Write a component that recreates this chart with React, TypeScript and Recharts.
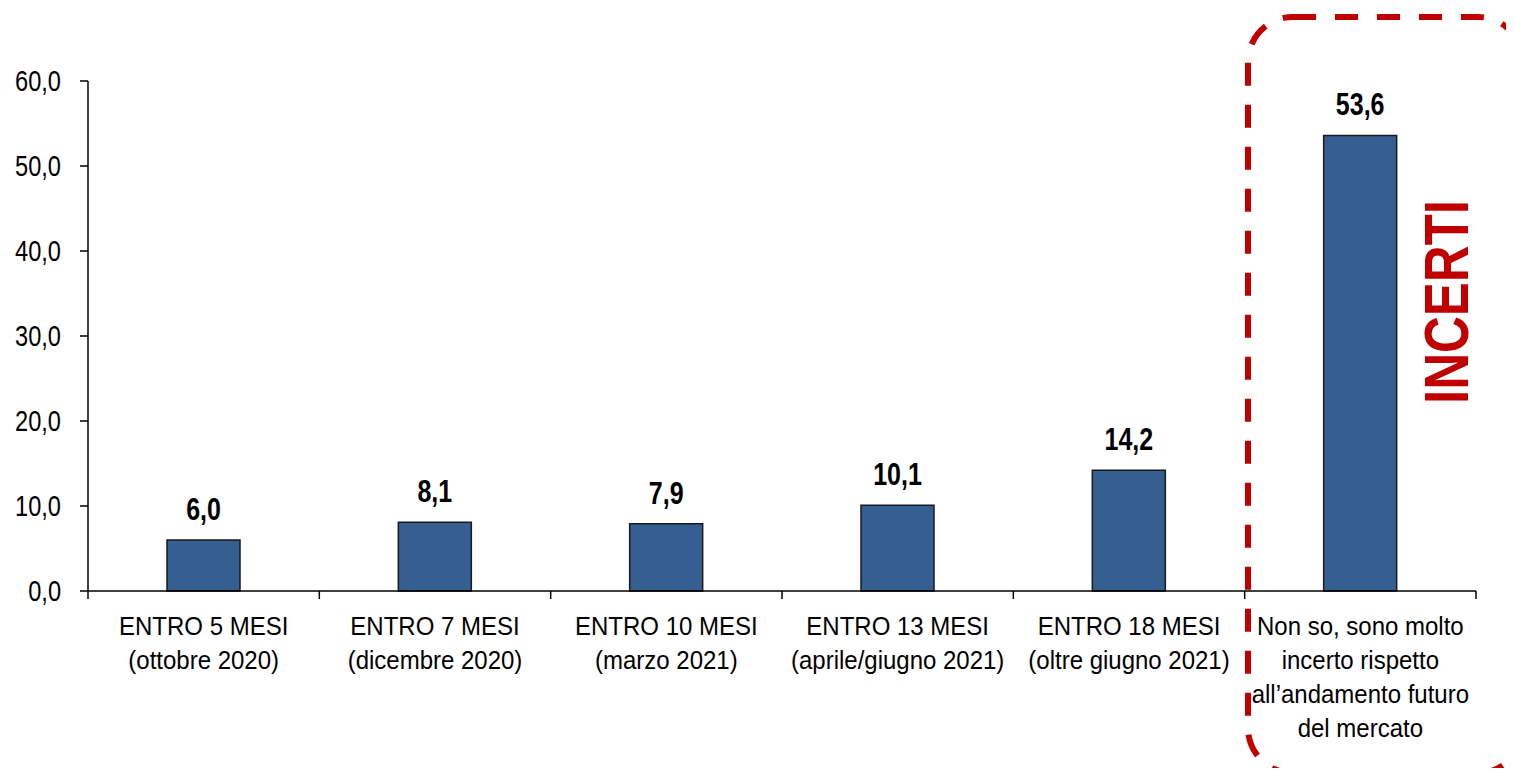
import React from 'react'
import { Bar, BarChart, LabelList, XAxis, YAxis } from 'recharts'

const categories = [
  ['ENTRO 5 MESI', '(ottobre 2020)'],
  ['ENTRO 7 MESI', '(dicembre 2020)'],
  ['ENTRO 10 MESI', '(marzo 2021)'],
  ['ENTRO 13 MESI', '(aprile/giugno 2021)'],
  ['ENTRO 18 MESI', '(oltre giugno 2021)'],
  ['Non so, sono molto', 'incerto rispetto', 'all\u2019andamento futuro', 'del mercato'],
]
const values = [6.0, 8.1, 7.9, 10.1, 14.2, 53.6]
const yTicks = [0, 10, 20, 30, 40, 50, 60]
const highlightLabel = 'INCERTI'

const data = categories.map((lines, i) => ({ name: lines.join(' '), lines, value: values[i] }))

const W = 1514
const H = 776
const PLOT_LEFT = 88
const PLOT_RIGHT = 1476
const BAND = (PLOT_RIGHT - PLOT_LEFT) / categories.length
const FONT = "'Liberation Sans', Arial, sans-serif"
const RED = '#C00000'

const fmt = (v: number) => v.toFixed(1).replace('.', ',')

// the original text is a bit taller than Arial, so stretch it vertically around its baseline
const TallText = ({ x, y, sy, children, ...rest }: any) => (
  <text transform={`translate(${x},${y}) scale(1,${sy})`} x={0} y={0} {...rest}>
    {children}
  </text>
)

const CategoryTick = (props: any) => {
  const { x, y, payload, index } = props
  const lines = categories[index] || [String(payload.value)]
  return (
    <g>
      <line x1={x - BAND / 2} x2={x - BAND / 2} y1={y} y2={y + 8} stroke="#000" strokeWidth={1.5} />
      {index === categories.length - 1 && (
        <line x1={x + BAND / 2} x2={x + BAND / 2} y1={y} y2={y + 8} stroke="#000" strokeWidth={1.5} />
      )}
      {lines.map((l: string, i: number) => (
        <TallText
          key={i}
          x={x}
          y={y + 44 + i * 34}
          sy={1.06}
          textAnchor="middle"
          fontSize={24}
          fontFamily={FONT}
          fill="#000"
        >
          {l}
        </TallText>
      ))}
    </g>
  )
}

const ValueTick = (props: any) => {
  const { x, y, payload } = props
  return (
    <TallText x={x} y={y + 10} sy={1.22} textAnchor="end" fontSize={23.6} fontFamily={FONT} fill="#000">
      {fmt(Number(payload.value))}
    </TallText>
  )
}

const BarValue = (props: any) => {
  const { x, y, width, value } = props
  return (
    <TallText
      x={Number(x) + Number(width) / 2}
      y={Number(y) - 20}
      sy={1.22}
      textAnchor="middle"
      fontSize={25}
      fontWeight="bold"
      fontFamily={FONT}
      fill="#000"
    >
      {fmt(Number(value))}
    </TallText>
  )
}

export default function App() {
  return (
    <div style={{ position: 'relative', width: W, height: H, margin: -8, background: '#fff' }}>
      <BarChart width={W} height={H} data={data} margin={{ top: 81, right: W - PLOT_RIGHT, left: 8, bottom: 65 }}>
        <YAxis
          width={80}
          domain={[0, 60]}
          ticks={yTicks}
          tickSize={8}
          tickMargin={19}
          axisLine={{ stroke: '#000', strokeWidth: 1.5 }}
          tickLine={{ stroke: '#000', strokeWidth: 1.5 }}
          tick={<ValueTick />}
        />
        <XAxis
          dataKey="name"
          height={120}
          interval={0}
          tickSize={0}
          tickMargin={0}
          tickLine={false}
          axisLine={{ stroke: '#000', strokeWidth: 1.5 }}
          tick={<CategoryTick />}
        />
        <Bar dataKey="value" barSize={73} fill="#355E91" stroke="#1a1a1a" strokeWidth={1.5} isAnimationActive={false}>
          <LabelList dataKey="value" content={<BarValue />} />
        </Bar>
      </BarChart>
      <svg width={W} height={H} style={{ position: 'absolute', left: 0, top: 0, pointerEvents: 'none' }}>
        <rect
          x={1248}
          y={17}
          width={275}
          height={756}
          rx={45}
          ry={45}
          fill="none"
          stroke={RED}
          strokeWidth={6}
          strokeDasharray="23 19"
        />
        <text
          transform="translate(1446,302) rotate(-90) scale(1,1.24)"
          textAnchor="middle"
          dominantBaseline="central"
          fontSize={51}
          fontWeight="bold"
          fontFamily={FONT}
          fill={RED}
        >
          {highlightLabel}
        </text>
      </svg>
    </div>
  )
}
